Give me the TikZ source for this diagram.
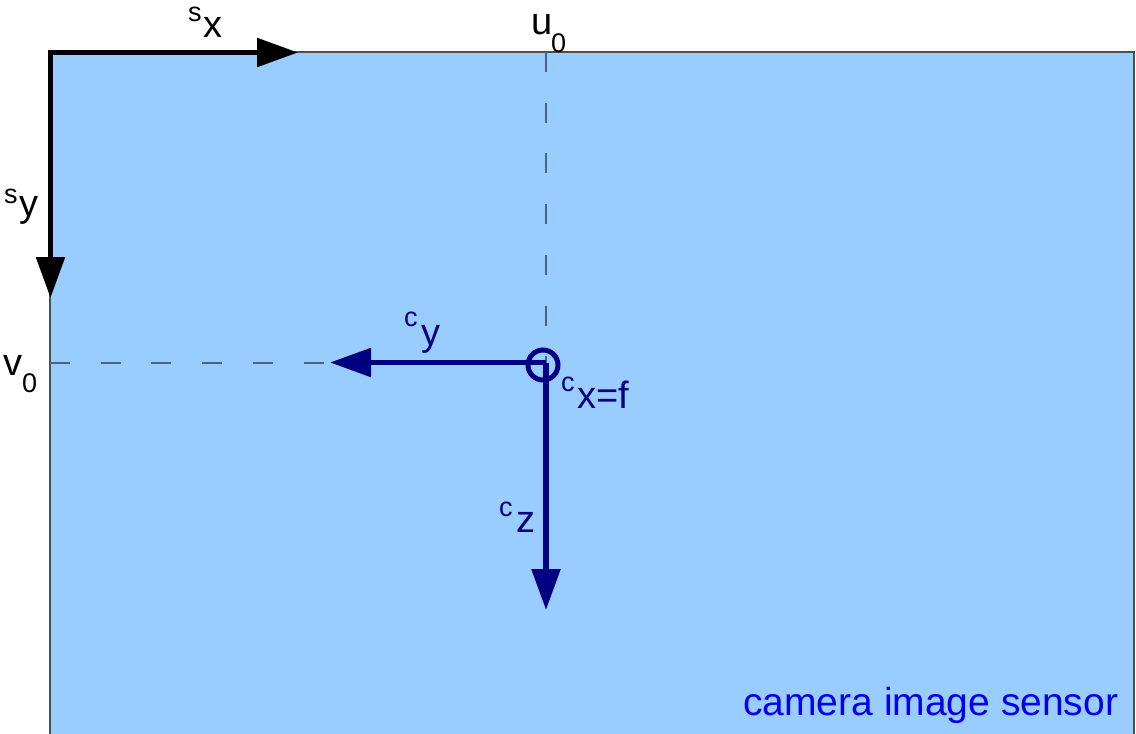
\documentclass[tikz,border=0pt]{standalone}
\usepackage{fontspec}
\setmainfont{Liberation Sans}
\usetikzlibrary{arrows.meta}
\definecolor{sensor}{HTML}{99CCFF}
\definecolor{navyc}{HTML}{000080}
\definecolor{dashc}{HTML}{4A6480}
\definecolor{edgec}{HTML}{4D4D4D}
\definecolor{textblue}{HTML}{0000EE}
\begin{document}
\begin{tikzpicture}[x=1pt,y=-1pt,
  big/.style={inner sep=0pt,anchor=base west,font=\fontsize{38}{38}\selectfont},
  small/.style={inner sep=0pt,anchor=base west,font=\fontsize{27}{27}\selectfont},
  blackaxis/.style={line width=5.5pt,line cap=rect,-{Triangle[length=41pt,width=28pt]}},
  navyaxis/.style={line width=5.5pt,draw=navyc,fill=navyc,-{Triangle[length=41pt,width=28pt]}},
  guide/.style={draw=dashc,line width=2pt,dash pattern=on 20pt off 30.7pt}]
\useasboundingbox (0,0) rectangle (1136,734);
\fill[white] (0,0) rectangle (1136,734);
% sensor plane
\filldraw[fill=sensor,draw=edgec,line width=1.5pt] (50,52) rectangle (1134,745);
% coordinates
\coordinate (O) at (50.5,52.5);
\coordinate (sxend) at (298,52.5);
\coordinate (syend) at (50.5,298);
\coordinate (u0top) at (546,52);
\coordinate (v0left) at (50,362.5);
\coordinate (C) at (546,362.5);
\coordinate (cyend) at (330,362.5);
\coordinate (czend) at (546,610);
% guides
\draw[guide] (u0top) -- (C);
\draw[guide] (v0left) -- (cyend);
% sensor axes
\draw[blackaxis] (O) -- (sxend);
\draw[blackaxis] (O) -- (syend);
% camera axes
\draw[navyaxis] (C) -- (cyend);
\draw[navyaxis] (C) -- (czend);
\node[draw=navyc,line width=5pt,circle,minimum size=30pt,inner sep=0pt] (cx) at (543,365) {};
% labels
\node[small] (sxs) at (188,21) {s};
\node[big] (sxx) at (203,37) {x};
\node[small] (sys) at (4,203) {s};
\node[big] (syy) at (19,216) {y};
\node[big] (u0u) at (531,34) {u};
\node[small] (u0z) at (551,52) {0};
\node[big] (v0v) at (3,375) {v};
\node[small] (v0z) at (22,392) {0};
\node[small,text=navyc] (cyc) at (404,326) {c};
\node[big,text=navyc] (cyy) at (421,345) {y};
\node[small,text=navyc] (cxc) at (561,391) {c};
\node[big,text=navyc] (cxx) at (577,408) {x=f};
\node[small,text=navyc] (czc) at (499,516) {c};
\node[big,text=navyc] (czz) at (516,532) {z};
\node[inner sep=0pt,anchor=base west,font=\fontsize{39}{39}\selectfont,text=textblue] (label) at (743,715) {camera image sensor};
\end{tikzpicture}
\end{document}
